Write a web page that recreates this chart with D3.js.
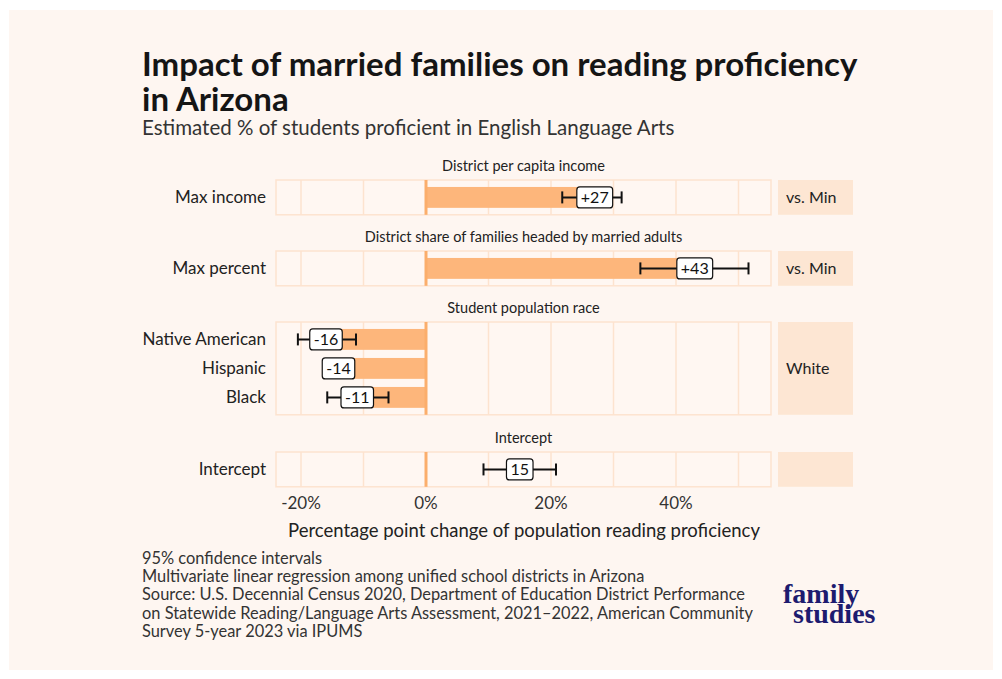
<!DOCTYPE html>
<html>
<head>
<meta charset="utf-8">
<script src="https://cdn.jsdelivr.net/npm/d3@7"></script>
<style>
  html, body { margin: 0; padding: 0; background: #ffffff; }
  svg { display: block; }
</style>
</head>
<body>
<svg id="chart" width="1002" height="679"></svg>
<script>
// data
const panels = ["District per capita income", "District share of families headed by married adults", "Student population race", "Intercept"];
const panelRefs = ["vs. Min", "vs. Min", "White", ""];
const terms = ["Max income", "Max percent", "Native American", "Hispanic", "Black", "Intercept"];
const termPanel = [0, 1, 2, 2, 2, 3];
const estimates = [27, 43, -16, -14, -11, 15];
const lower = [21.8, 34.3, -20.5, -15.9, -15.8, 9.2];
const upper = [31.3, 51.6, -11.2, -12.1, -6.0, 20.8];
const labels = ["+27", "+43", "-16", "-14", "-11", "15"];
const showBar = [true, true, true, true, true, false];
const xTicks = [-20, 0, 20, 40];
const gridVals = [-20, -10, 0, 10, 20, 30, 40, 50];

const svg = d3.select("#chart");
const font = "Lato, 'Open Sans', sans-serif";

// background card
svg.append("rect").attr("x", 9).attr("y", 10).attr("width", 984).attr("height", 660)
  .attr("fill", "#fef6f1");

// title (two lines in one block) and subtitle
const title = svg.append("text")
  .attr("font-family", font).attr("font-weight", 700).attr("font-size", 33).attr("fill", "#151515");
title.append("tspan").attr("x", 142).attr("y", 76).text("Impact of married families on reading proficiency");
title.append("tspan").attr("x", 142).attr("y", 111).text("in Arizona");
svg.append("text").attr("x", 142).attr("y", 135)
  .attr("font-family", font).attr("font-size", 20.5).attr("fill", "#333")
  .text("Estimated % of students proficient in English Language Arts");

const x = d3.scaleLinear().domain([-24, 55.2]).range([276, 771]);
const stripX0 = 778, stripX1 = 853;
const unit = 29;
const panelTops = [180, 251, 322, 452];

const gridColor = "#fde3cf";
const barColor = "#fdb67b";

panels.forEach((p, pi) => {
  const idx = terms.map((t, i) => i).filter(i => termPanel[i] === pi);
  const n = idx.length;
  const top = panelTops[pi];
  const h = (n - 1 + 1.2) * unit;
  const y = d3.scalePoint().domain(idx.map(i => terms[i])).range([top, top + h]).padding(0.6);
  const g = svg.append("g");

  // strip title
  g.append("text").attr("x", (x.range()[0] + x.range()[1]) / 2).attr("y", top - 9)
    .attr("text-anchor", "middle").attr("font-family", font).attr("font-size", 14.5).attr("fill", "#222")
    .text(p);

  // panel frame and grid
  g.append("rect").attr("x", x.range()[0]).attr("y", top).attr("width", x.range()[1] - x.range()[0]).attr("height", h)
    .attr("fill", "#fff7f2").attr("stroke", gridColor).attr("stroke-width", 1.5);
  g.selectAll("line.grid").data(gridVals.filter(v => v !== 0)).enter().append("line")
    .attr("x1", d => x(d)).attr("x2", d => x(d)).attr("y1", top).attr("y2", top + h)
    .attr("stroke", gridColor).attr("stroke-width", 1.5);

  // right strip with reference group
  g.append("rect").attr("x", stripX0).attr("y", top).attr("width", stripX1 - stripX0).attr("height", h)
    .attr("fill", "#fde6d3");
  g.append("text").attr("x", stripX0 + 8).attr("y", top + h / 2).attr("dy", "0.35em")
    .attr("font-family", font).attr("font-size", 16).attr("fill", "#222")
    .text(panelRefs[pi]);

  // y labels
  idx.forEach(i => {
    g.append("text").attr("x", 266).attr("y", y(terms[i])).attr("dy", "0.35em")
      .attr("text-anchor", "end").attr("font-family", font).attr("font-size", 17).attr("fill", "#222")
      .text(terms[i]);
  });

  const bh = 0.72 * unit;
  // bars
  g.selectAll("rect.bar").data(idx.filter(i => showBar[i])).enter().append("rect")
    .attr("x", i => Math.min(x(0), x(estimates[i])))
    .attr("width", i => Math.abs(x(estimates[i]) - x(0)))
    .attr("y", i => y(terms[i]) - bh / 2).attr("height", bh)
    .attr("fill", barColor);

  // zero line
  g.append("line").attr("x1", x(0)).attr("x2", x(0)).attr("y1", top).attr("y2", top + h)
    .attr("stroke", "#fbae6c").attr("stroke-width", 3);

  // error bars
  idx.forEach(i => {
    const cy = y(terms[i]);
    g.append("line").attr("x1", x(lower[i])).attr("x2", x(upper[i])).attr("y1", cy).attr("y2", cy)
      .attr("stroke", "#111").attr("stroke-width", 2);
    [lower[i], upper[i]].forEach(v => {
      g.append("line").attr("x1", x(v)).attr("x2", x(v)).attr("y1", cy - 6).attr("y2", cy + 6)
        .attr("stroke", "#111").attr("stroke-width", 2);
    });
  });

  // value labels
  idx.forEach(i => {
    const cy = y(terms[i]);
    const lg = g.append("g");
    const t = lg.append("text").attr("x", x(estimates[i])).attr("y", cy).attr("dy", "0.36em")
      .attr("text-anchor", "middle").attr("font-family", font).attr("font-size", 16).attr("fill", "#111")
      .text(labels[i]);
    const bb = t.node().getBBox();
    lg.insert("rect", "text").attr("x", bb.x - 4).attr("y", cy - 10.5).attr("width", bb.width + 8).attr("height", 21)
      .attr("rx", 3).attr("fill", "#fff").attr("stroke", "#111").attr("stroke-width", 1.2);
  });
});

// x axis tick labels
svg.selectAll("text.tick").data(xTicks).enter().append("text")
  .attr("x", d => x(d)).attr("y", 509).attr("text-anchor", "middle")
  .attr("font-family", font).attr("font-size", 17).attr("fill", "#333")
  .text(d => d + "%");

svg.append("text").attr("x", 524).attr("y", 537).attr("text-anchor", "middle")
  .attr("font-family", font).attr("font-size", 18.5).attr("fill", "#222")
  .text("Percentage point change of population reading proficiency");

// caption
const caption = [
  "95% confidence intervals",
  "Multivariate linear regression among unified school districts in Arizona",
  "Source: U.S. Decennial Census 2020, Department of Education District Performance",
  "on Statewide Reading/Language Arts Assessment, 2021\u20132022, American Community",
  "Survey 5-year 2023 via IPUMS"
];
svg.selectAll("text.cap").data(caption).enter().append("text")
  .attr("x", 142).attr("y", (d, i) => 564 + i * 18.2)
  .attr("font-family", font).attr("font-size", 16.4).attr("fill", "#333")
  .text(d => d);

// logo (one text block, two lines)
const logo = svg.append("text")
  .attr("font-family", "'Liberation Serif', serif").attr("font-weight", 700).attr("font-size", 28).attr("fill", "#1d1b6f");
logo.append("tspan").attr("x", 783).attr("y", 603).text("family");
logo.append("tspan").attr("x", 793).attr("y", 623).text("studies");
</script>
</body>
</html>
